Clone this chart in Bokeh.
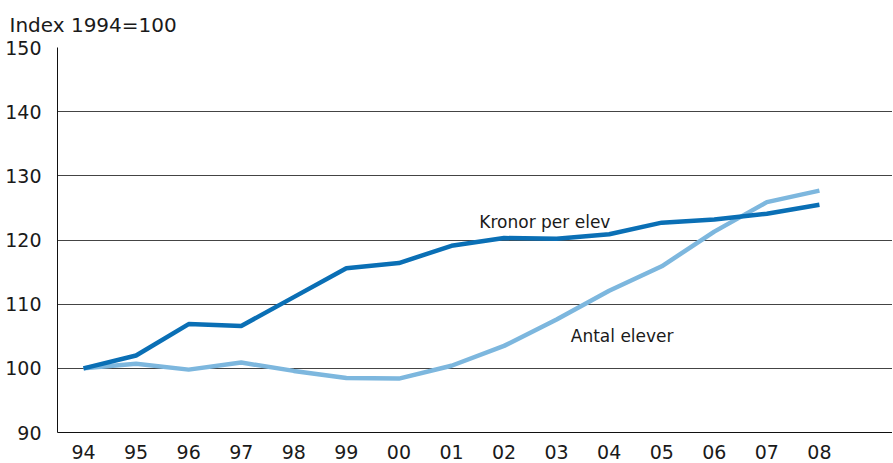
from bokeh.plotting import figure
from bokeh.models import Range1d, FixedTicker, Label, Title
from bokeh.embed import file_html
from bokeh.resources import INLINE

years = ["94", "95", "96", "97", "98", "99", "00", "01", "02", "03", "04", "05", "06", "07", "08"]
kronor_per_elev = [100, 102.0, 106.9, 106.6, 111.1, 115.6, 116.4, 119.1, 120.3, 120.2, 120.9, 122.7, 123.2, 124.1, 125.5]
antal_elever = [100, 100.7, 99.8, 100.9, 99.6, 98.5, 98.4, 100.4, 103.5, 107.6, 112.1, 115.9, 121.3, 125.9, 127.7]
y_ticks = [90, 100, 110, 120, 130, 140, 150]

x = list(range(len(years)))
FONT = "DejaVu Sans"
TXT = "#1a1a1a"

p = figure(width=892, height=462, output_backend="svg", toolbar_location=None,
           x_range=Range1d(-0.495, 15.39), y_range=Range1d(90, 150),
           min_border_left=57, min_border_right=0, min_border_top=46, min_border_bottom=30)
p.outline_line_color = None
p.background_fill_color = "white"

p.add_layout(Title(text="Index 1994=100", align="left", offset=-48, standoff=21,
                   text_font=FONT, text_font_size="20px", text_font_style="normal",
                   text_color=TXT), "above")

p.xgrid.grid_line_color = None
p.ygrid.grid_line_color = "#444444"
p.ygrid.grid_line_width = 1
p.ygrid.ticker = FixedTicker(ticks=y_ticks)

p.yaxis.ticker = FixedTicker(ticks=y_ticks)
p.yaxis.major_tick_line_color = None
p.yaxis.minor_tick_line_color = None
p.yaxis.axis_line_color = "#111111"
p.yaxis.major_label_text_font = FONT
p.yaxis.major_label_text_font_size = "19px"
p.yaxis.major_label_text_color = TXT
p.yaxis.major_label_standoff = 10

p.xaxis.ticker = FixedTicker(ticks=x)
p.xaxis.major_label_overrides = {i: y for i, y in enumerate(years)}
p.xaxis.major_tick_line_color = None
p.xaxis.minor_tick_line_color = None
p.xaxis.axis_line_color = "#111111"
p.xaxis.major_label_text_font = FONT
p.xaxis.major_label_text_font_size = "19px"
p.xaxis.major_label_text_color = TXT
p.xaxis.major_label_standoff = 6

p.line(x, antal_elever, line_color="#7db7de", line_width=4.5)
p.line(x, kronor_per_elev, line_color="#0a6fb5", line_width=4.5)

p.add_layout(Label(x=7.53, y=122.75, text="Kronor per elev", text_font=FONT,
                   text_font_size="17px", text_color=TXT, text_baseline="alphabetic"))
p.add_layout(Label(x=9.27, y=105.0, text="Antal elever", text_font=FONT,
                   text_font_size="17px", text_color=TXT, text_baseline="alphabetic"))

open("out.html", "w").write(file_html(p, INLINE))
